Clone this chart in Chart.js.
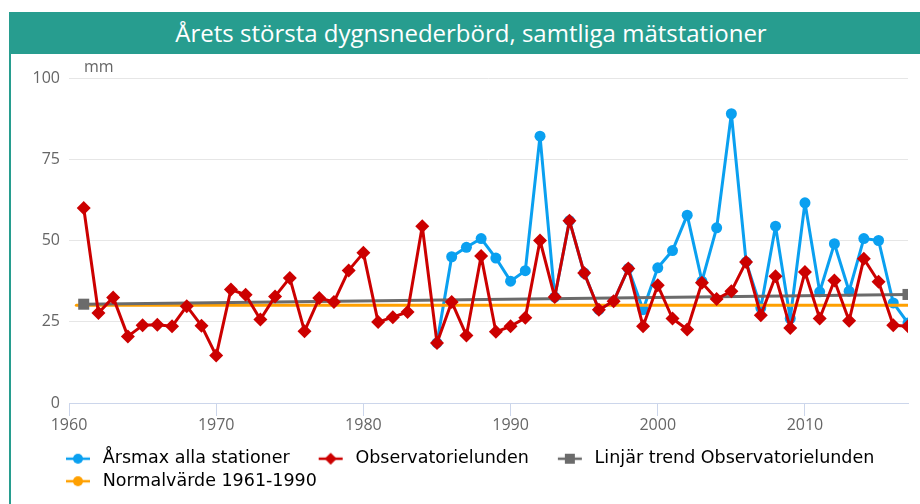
<!DOCTYPE html>
<html lang="sv">
<head>
<meta charset="utf-8">
<title>Årets största dygnsnederbörd</title>
<script src="https://cdn.jsdelivr.net/npm/chart.js@4/dist/chart.umd.min.js"></script>
<style>
  html, body { margin: 0; padding: 0; background: #fff; }
  body { width: 920px; height: 504px; position: relative; overflow: hidden; }
  #header {
    position: absolute; left: 9px; top: 12px; width: 911px; height: 42px;
    background: #279d8f; color: #fff; text-align: center; text-indent: 13px;
    font-family: "Open Sans", Lato, sans-serif; font-size: 24px; line-height: 42px;
  }
  #frame { position: absolute; left: 9px; top: 54px; width: 2px; height: 450px; background: #279d8f; }
  #wrap { position: absolute; left: 11px; top: 54px; width: 909px; height: 450px; }
</style>
</head>
<body>
<div id="header">Årets största dygnsnederbörd, samtliga mätstationer</div>
<div id="frame"></div>
<div id="wrap"><canvas id="chart"></canvas></div>
<script>
// Årtal och värden (mm)
const years = [
  1961, 1962, 1963, 1964, 1965, 1966, 1967, 1968, 1969, 1970,
  1971, 1972, 1973, 1974, 1975, 1976, 1977, 1978, 1979, 1980,
  1981, 1982, 1983, 1984, 1985, 1986, 1987, 1988, 1989, 1990,
  1991, 1992, 1993, 1994, 1995, 1996, 1997, 1998, 1999, 2000,
  2001, 2002, 2003, 2004, 2005, 2006, 2007, 2008, 2009, 2010,
  2011, 2012, 2013, 2014, 2015, 2016, 2017
];

const observatorielunden = [
  60.0, 27.7, 32.5, 20.5, 23.9, 24.1, 23.6, 29.8, 23.8, 14.6,
  34.9, 33.3, 25.7, 32.8, 38.5, 22.1, 32.3, 31.1, 40.8, 46.2,
  24.9, 26.4, 28.0, 54.4, 18.5, 31.1, 20.8, 45.2, 21.9, 23.6,
  26.2, 50.0, 32.6, 56.1, 40.0, 28.7, 31.3, 41.4, 23.6, 36.2,
  26.0, 22.6, 37.0, 32.0, 34.4, 43.4, 27.0, 39.0, 23.1, 40.3,
  26.0, 37.7, 25.3, 44.4, 37.3, 23.9, 23.6
];

const arsmaxAlla = [
  null, null, null, null, null, null, null, null, null, null,
  null, null, null, null, null, null, null, null, null, null,
  null, null, null, null, 18.5, 45.0, 47.9, 50.6, 44.6, 37.5,
  40.7, 82.1, 32.6, 56.1, 40.0, 28.7, 31.3, 41.4, 28.7, 41.6,
  46.9, 57.8, 37.5, 53.9, 89.0, 43.4, 29.3, 54.4, 26.0, 61.6,
  34.2, 49.0, 34.4, 50.6, 50.0, 30.8, 24.6
];

const trendYears = [1961, 2017];
const trendValues = [30.4, 33.4];

const normalYears = [1960.5, 2017];
const normalValues = [30.1, 30.1];

const yTicks = [0, 25, 50, 75, 100];

const BLUE = "#0aa0f0";
const RED = "#cc0000";
const GRAY = "#6b6b6b";
const ORANGE = "#ffa000";

function toPoints(xs, ys) {
  return xs.map((x, i) => ({ x: x, y: ys[i] }));
}

// liten ikon för legenden: linje med markör (tom yta före och efter)
function legendIcon(color, shape) {
  const c = document.createElement("canvas");
  c.width = 52;
  c.height = 14;
  const g = c.getContext("2d");
  g.strokeStyle = color;
  g.fillStyle = color;
  g.lineWidth = 2.5;
  g.beginPath();
  g.moveTo(24, 7);
  g.lineTo(48, 7);
  g.stroke();
  g.beginPath();
  if (shape === "circle") {
    g.arc(36, 7, 5, 0, Math.PI * 2);
  } else if (shape === "diamond") {
    g.moveTo(36, 1); g.lineTo(42, 7); g.lineTo(36, 13); g.lineTo(30, 7);
  } else {
    g.rect(31, 2, 10, 10);
  }
  g.fill();
  return c;
}

const icons = [
  legendIcon(BLUE, "circle"),
  legendIcon(RED, "diamond"),
  legendIcon(GRAY, "square"),
  legendIcon(ORANGE, "circle")
];

// "mm" ovanför y-axeln, och legenden flyttad in under diagrammet
const extras = {
  id: "extras",
  afterLayout(chart) {
    chart.legend.left += 26;
  },
  afterDraw(chart) {
    const { ctx, chartArea } = chart;
    ctx.save();
    ctx.font = '16px "Open Sans"';
    ctx.fillStyle = "#666666";
    ctx.textBaseline = "middle";
    ctx.fillText("mm", chartArea.left + 15, chartArea.top - 11);
    ctx.restore();
  }
};

new Chart(document.getElementById("chart"), {
  type: "line",
  data: {
    datasets: [
      {
        label: "Årsmax alla stationer",
        data: toPoints(years, arsmaxAlla),
        borderColor: BLUE,
        backgroundColor: BLUE,
        borderWidth: 3,
        pointStyle: "circle",
        pointRadius: 5.5,
        pointBorderWidth: 0,
        spanGaps: false,
        order: 3
      },
      {
        label: "Observatorielunden",
        data: toPoints(years, observatorielunden),
        borderColor: RED,
        backgroundColor: RED,
        borderWidth: 3,
        pointStyle: "rectRot",
        pointRadius: 7,
        pointBorderWidth: 0,
        order: 0
      },
      {
        label: "Linjär trend Observatorielunden",
        data: toPoints(trendYears, trendValues),
        borderColor: GRAY,
        backgroundColor: GRAY,
        borderWidth: 3,
        pointStyle: "rect",
        pointRadius: 7.8,
        pointBorderWidth: 0,
        order: 1
      },
      {
        label: "Normalvärde 1961-1990",
        data: toPoints(normalYears, normalValues),
        borderColor: ORANGE,
        backgroundColor: ORANGE,
        borderWidth: 3,
        pointRadius: 0,
        order: 2
      }
    ]
  },
  options: {
    responsive: true,
    maintainAspectRatio: false,
    animation: false,
    events: [],
    elements: {
      line: { borderJoinStyle: "round", borderCapStyle: "round" }
    },
    layout: { padding: { left: 0, right: 12, top: 24, bottom: 4 } },
    scales: {
      x: {
        type: "linear",
        min: 1960,
        max: 2017,
        afterFit: (scale) => { scale.height = 42; },
        ticks: {
          stepSize: 10,
          includeBounds: false,
          padding: 0,
          maxRotation: 0,
          color: "#666666",
          font: { family: "Open Sans", size: 16 },
          callback: (v) => String(v)
        },
        grid: {
          drawOnChartArea: false,
          drawTicks: true,
          tickLength: 13,
          color: "#ccd6eb"
        },
        border: { color: "#ccd6eb", width: 1 }
      },
      y: {
        min: 0,
        max: 100,
        afterFit: (scale) => { scale.width = 58; },
        afterBuildTicks: (scale) => { scale.ticks = yTicks.map(v => ({ value: v })); },
        ticks: {
          padding: 9,
          color: "#666666",
          font: { family: "Open Sans", size: 16 }
        },
        grid: {
          drawTicks: false,
          color: (c) => c.tick && c.tick.value === 0 ? "rgba(0,0,0,0)" : "#e6e6e6"
        },
        border: { display: false }
      }
    },
    plugins: {
      tooltip: { enabled: false },
      legend: {
        position: "bottom",
        align: "start",
        labels: {
          usePointStyle: true,
          pointStyleWidth: 52,
          boxHeight: 14,
          padding: 5,
          color: "#333333",
          font: { family: "DejaVu Sans", size: 17.5 },
          generateLabels: (chart) => chart.data.datasets.map((ds, i) => ({
            text: ds.label,
            pointStyle: icons[i],
            fillStyle: ds.borderColor,
            strokeStyle: ds.borderColor,
            lineWidth: 0,
            hidden: false,
            datasetIndex: i
          }))
        }
      }
    }
  },
  plugins: [extras]
});
</script>
</body>
</html>
